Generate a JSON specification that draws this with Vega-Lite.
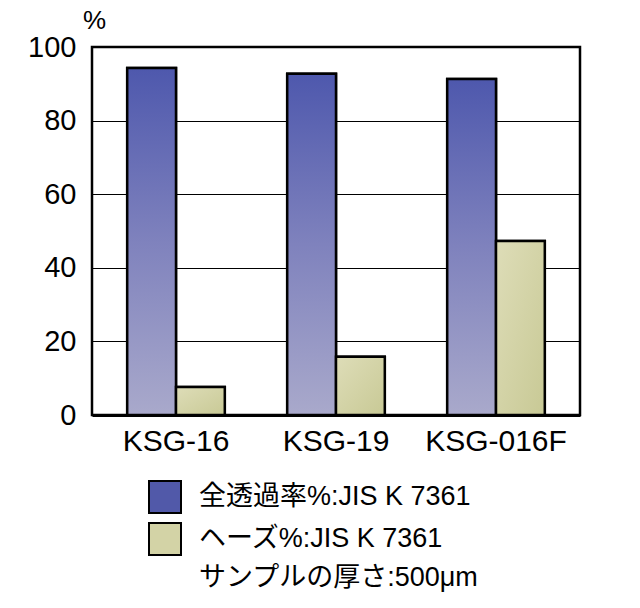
{
  "$schema": "https://vega.github.io/schema/vega-lite/v6.json",
  "width": 488,
  "height": 368,
  "autosize": {"type": "none"},
  "padding": {"left": 92, "top": 47, "right": 60, "bottom": 193},
  "background": "white",
  "config": {
    "view": {"stroke": "black", "strokeWidth": 2.5},
    "font": "Liberation Sans, Noto Sans CJK JP"
  },
  "data": {
    "values": [
      {"sample": "KSG-16", "series": "全透過率%:JIS K 7361", "value": 94.3},
      {"sample": "KSG-16", "series": "ヘーズ%:JIS K 7361", "value": 7.6},
      {"sample": "KSG-19", "series": "全透過率%:JIS K 7361", "value": 92.7},
      {"sample": "KSG-19", "series": "ヘーズ%:JIS K 7361", "value": 15.8},
      {"sample": "KSG-016F", "series": "全透過率%:JIS K 7361", "value": 91.3},
      {"sample": "KSG-016F", "series": "ヘーズ%:JIS K 7361", "value": 47.3}
    ]
  },
  "encoding": {
    "x": {
      "field": "sample",
      "type": "nominal",
      "sort": ["KSG-16", "KSG-19", "KSG-016F"],
      "scale": {"paddingInner": 0.39, "paddingOuter": 0.22},
      "axis": {
        "title": null,
        "labelAngle": 0,
        "labelFontSize": 30,
        "labelColor": "black",
        "labelPadding": 11,
        "labelDx": -9,
        "ticks": false,
        "domain": true,
        "domainColor": "black",
        "domainWidth": 3,
        "labelFont": "Liberation Sans"
      }
    },
    "xOffset": {
      "field": "series",
      "type": "nominal",
      "scale": {"domain": ["全透過率%:JIS K 7361", "ヘーズ%:JIS K 7361"], "paddingInner": 0, "paddingOuter": 0}
    },
    "y": {
      "field": "value",
      "type": "quantitative",
      "scale": {"domain": [0, 100]},
      "axis": {
        "values": [0, 20, 40, 60, 80, 100],
        "grid": true,
        "gridColor": "black",
        "gridWidth": 1,
        "gridOpacity": 1,
        "ticks": false,
        "domain": false,
        "labelFontSize": 29,
        "labelColor": "black",
        "labelPadding": 16,
        "labelDy": -4,
        "labelFont": "Liberation Sans",
        "title": "%",
        "titleAngle": 0,
        "titleX": 2,
        "titleY": -27,
        "titleFontSize": 26,
        "titleFontWeight": "normal",
        "titleAlign": "center",
        "titleBaseline": "middle",
        "titleColor": "black",
        "titleFont": "Liberation Sans"
      }
    }
  },
  "layer": [
    {
      "mark": {"type": "bar", "stroke": "black", "strokeWidth": 2.5},
      "encoding": {
        "color": {
          "field": "series",
          "type": "nominal",
          "scale": {
            "domain": ["全透過率%:JIS K 7361", "ヘーズ%:JIS K 7361", "サンプルの厚さ:500μm"],
            "range": ["#5159A9", "#D3D3A6", "white"]
          },
          "legend": {
            "orient": "none",
            "legendX": 56,
            "legendY": 433,
            "title": null,
            "symbolType": "square",
            "symbolSize": 1024,
            "symbolStrokeColor": "black",
            "symbolStrokeWidth": 2,
            "symbolOpacity": 1,
            "labelFontSize": 27,
            "labelColor": "black",
            "labelOffset": 17,
            "labelLimit": 420,
            "rowPadding": 2,
            "labelFont": "Liberation Sans, Noto Sans CJK JP",
            "encode": {
              "symbols": {
                "update": {
                  "opacity": {"signal": "datum.value == 'サンプルの厚さ:500μm' ? 0 : 1"}
                }
              }
            }
          }
        }
      }
    },
    {
      "transform": [{"filter": "datum.series == '全透過率%:JIS K 7361'"}],
      "mark": {
        "type": "bar",
        "stroke": "black",
        "strokeWidth": 2.5,
        "fill": {
          "gradient": "linear",
          "x1": 0, "y1": 0, "x2": 0, "y2": 1,
          "stops": [
            {"offset": 0, "color": "#4E58AD"},
            {"offset": 0.5, "color": "#7F82BD"},
            {"offset": 1, "color": "#A9A9CB"}
          ]
        }
      }
    },
    {
      "transform": [{"filter": "datum.series == 'ヘーズ%:JIS K 7361'"}],
      "mark": {
        "type": "bar",
        "stroke": "black",
        "strokeWidth": 2.5,
        "fill": {
          "gradient": "linear",
          "x1": 0, "y1": 0, "x2": 1, "y2": 1,
          "stops": [
            {"offset": 0, "color": "#DEDDB8"},
            {"offset": 1, "color": "#C8C995"}
          ]
        }
      }
    }
  ]
}
